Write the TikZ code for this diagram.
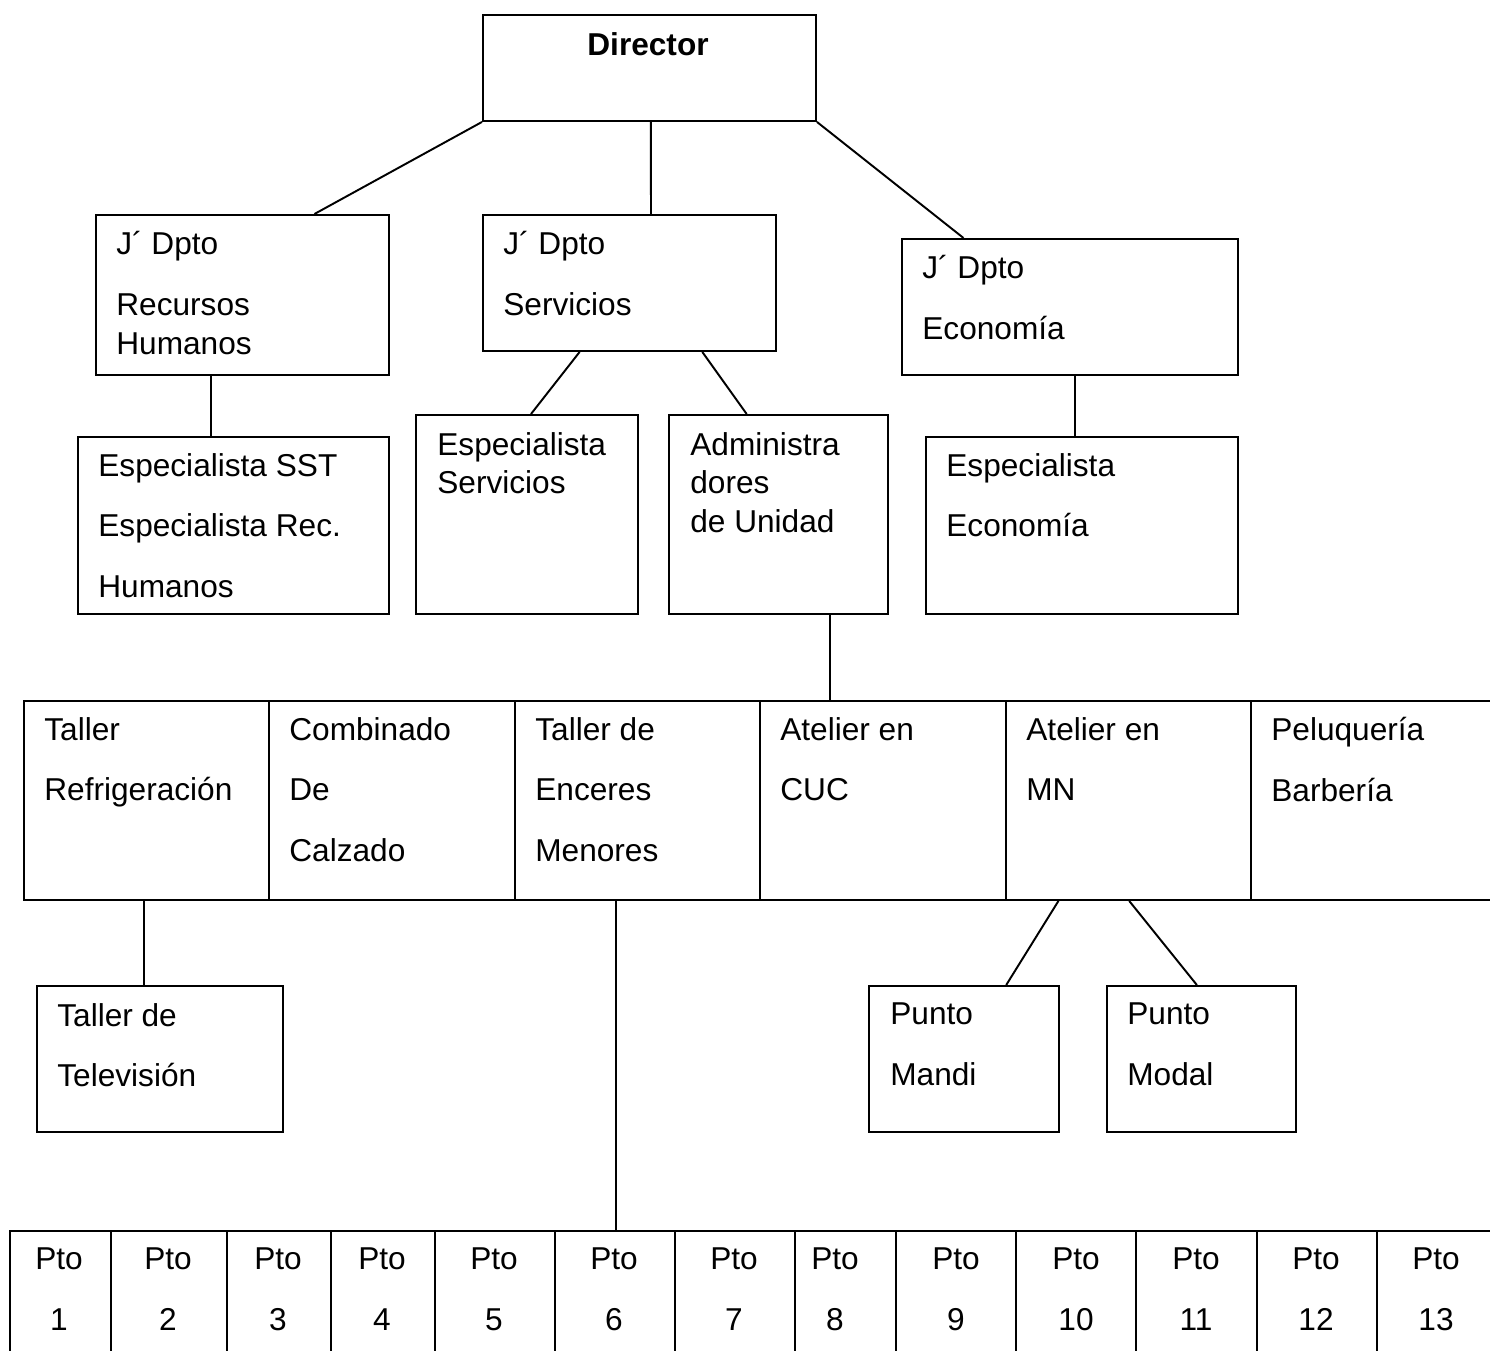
\documentclass[tikz,border=0pt]{standalone}
\usepackage{fontspec}
\setmainfont{Liberation Sans}
\usetikzlibrary{calc}

\tikzset{
  bx/.style 2 args={draw, line width=1.1pt, anchor=north west, inner sep=0, minimum width=(#1)*0.02cm, minimum height=(#2)*0.02cm},
  txt/.style={anchor=north west, yshift=13.2pt, inner sep=0, align=left, font=\fontsize{18}{22.1}\selectfont, execute at begin node={\rule{0pt}{16pt}}},
  ln/.style={line width=1.1pt}
}

\begin{document}
\begin{tikzpicture}[x=0.02cm, y=-0.02cm]
\useasboundingbox (0,0) rectangle (1490,1350);

% boxes
\node[bx={333}{106}] (dir) at (482,14) {};
\node[txt, anchor=north, font=\fontsize{18}{22.1}\selectfont\bfseries] (dirt) at (648,50) {Director};

\node[bx={293}{160}] (rh) at (95,214) {}; %RH
\node[txt] (rht) at (116,254) {J´ Dpto\\[12.5pt]Recursos\\Humanos};
\node[bx={293}{136}] (serv) at (482,214) {}; %servicios
\node[txt] (servt) at (503,254) {J´ Dpto\\[12.5pt]Servicios};
\node[bx={336}{136}] (econ) at (901,238) {}; %economia
\node[txt] (econt) at (922,278) {J´ Dpto\\[12.5pt]Economía};

\node[bx={311}{177}] (sst) at (77,436) {};
\node[txt] (sstt) at (98,476) {Especialista SST\\[12.5pt]Especialista Rec.\\[12.5pt]Humanos};
\node[bx={222}{199}] (esps) at (415,414) {};
\node[txt] (espst) at (437,455) {Especialista\\Servicios};
\node[bx={219}{199}] (adm) at (668,414) {};
\node[txt] (admt) at (690,455) {Administra\\dores\\de Unidad};
\node[bx={312}{177}] (espe) at (925,436) {};
\node[txt] (espet) at (946,476) {Especialista\\[12.5pt]Economía};

% fila de unidades
\foreach \n/\xa/\t in {ref/23/{Taller\\[12.5pt]Refrigeración},
  cal/268/{Combinado\\[12.5pt]De\\[12.5pt]Calzado},
  enc/514/{Taller de\\[12.5pt]Enceres\\[12.5pt]Menores},
  cuc/759/{Atelier en\\[12.5pt]CUC},
  mn/1005/{Atelier en\\[12.5pt]MN},
  pel/1250/{Peluquería\\[12.5pt]Barbería}}{
  \node[bx={245.5}{199}] (\n) at (\xa,700) {};
  \node[txt] (\n t) at (\xa+21,740) {\t};
}

\node[bx={246}{146}] (tele) at (36,985) {};
\node[txt] (telet) at (57,1026) {Taller de\\[12.5pt]Televisión};
\node[bx={190}{146}] (mandi) at (868,985) {};
\node[txt] (mandit) at (890,1026) {Punto\\[12.5pt]Mandi};
\node[bx={189}{146}] (modal) at (1106,985) {};
\node[txt] (modalt) at (1127,1026) {Punto\\[12.5pt]Modal};

% puntos
\foreach \i/\xa/\xb/\xc in {1/9/110/59, 2/110/226/168, 3/226/330/278, 4/330/434/382, 5/434/554/494, 6/554/674/614, 7/674/794/734,
  8/794/895/835, 9/895/1015/956, 10/1015/1135/1076, 11/1135/1256/1196, 12/1256/1376/1316, 13/1376/1496/1436}{
  \node[bx={\xb-\xa}{130}] (p\i) at (\xa,1230) {};
  \node[txt, anchor=north, align=center] (p\i t) at (\xc,1271) {Pto\\[12.5pt]\i};
}

% lineas
\draw[ln] (dir.south west) -- ($(rh.north west)!.744!(rh.north east)$);
\draw[ln] ($(dir.south west)!.504!(dir.south east)$) -- ($(serv.north west)!.573!(serv.north east)$);
\draw[ln] (dir.south east) -- ($(econ.north west)!.185!(econ.north east)$);
\draw[ln] ($(rh.south west)!.392!(rh.south east)$) coordinate (a) -- (a |- sst.north);
\draw[ln] ($(serv.south west)!.331!(serv.south east)$) -- ($(esps.north west)!.518!(esps.north east)$);
\draw[ln] ($(serv.south west)!.747!(serv.south east)$) -- ($(adm.north west)!.356!(adm.north east)$);
\draw[ln] ($(econ.south west)!.515!(econ.south east)$) coordinate (b) -- (b |- espe.north);
\draw[ln] ($(adm.south west)!.735!(adm.south east)$) coordinate (c) -- (c |- cuc.north);
\draw[ln] ($(ref.south west)!.49!(ref.south east)$) coordinate (d) -- (d |- tele.north);
\draw[ln] ($(mn.south west)!.216!(mn.south east)$) -- ($(mandi.north west)!.72!(mandi.north east)$);
\draw[ln] ($(mn.south west)!.502!(mn.south east)$) -- ($(modal.north west)!.476!(modal.north east)$);
\draw[ln] ($(enc.south west)!.412!(enc.south east)$) coordinate (e) -- (e |- p6.north);

\end{tikzpicture}
\end{document}
